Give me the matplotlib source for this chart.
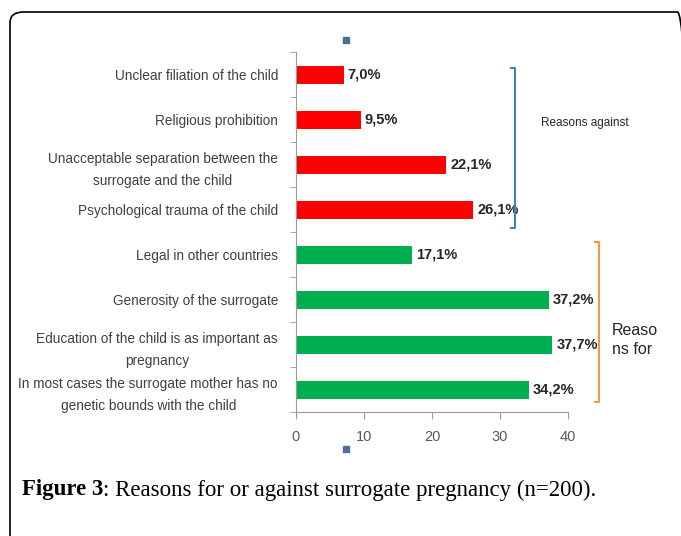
import matplotlib.pyplot as plt
from matplotlib.patches import FancyBboxPatch, Rectangle
from matplotlib.lines import Line2D

categories = [
    "Unclear filiation of the child",
    "Religious prohibition",
    "Unacceptable separation between the\nsurrogate and the child",
    "Psychological trauma of the child",
    "Legal in other countries",
    "Generosity of the surrogate",
    "Education of the child is as important as\npregnancy",
    "In most cases the surrogate mother has no\ngenetic bounds with the child",
]
values = [7.0, 9.5, 22.1, 26.1, 17.1, 37.2, 37.7, 34.2]
groups = ["against"] * 4 + ["for"] * 4
colors = {"against": "#FF0000", "for": "#00B050"}
xticks = [0, 10, 20, 30, 40]

W, H = 681, 536
fig = plt.figure(figsize=(W / 100, H / 100), dpi=100)
fam = ["Liberation Sans Narrow", "Liberation Sans", "DejaVu Sans"]

ax = fig.add_axes([296 / W, 1 - 412 / H, 272 / W, 360 / H])
y = list(range(len(categories)))
ax.barh(y, values, height=0.4, color=[colors[g] for g in groups])
ax.set_ylim(len(categories) - 0.5, -0.5)
ax.set_xlim(0, 40)
ax.set_xticks(xticks)
ax.set_xticklabels([str(t) for t in xticks], family=fam, fontsize=10.5, color="#595959")
ax.set_yticks(y)
ax.set_yticklabels(categories, family=fam, fontsize=9.8, color="#404040")
for lab in ax.get_yticklabels():
    lab.set_linespacing(1.75)
    lab.set_multialignment("center")
ax.set_yticks([i - 0.5 for i in range(len(categories) + 1)], minor=True)
ax.tick_params(axis="y", which="major", length=0, pad=13)
ax.tick_params(axis="y", which="minor", length=4, color="#999999")
ax.tick_params(axis="x", length=5, color="#999999", pad=8)
for s in ["top", "right"]:
    ax.spines[s].set_visible(False)
for s in ["left", "bottom"]:
    ax.spines[s].set_color("#999999")
for yi, v in zip(y, values):
    ax.text(v + 0.6, yi, f"{v:.1f}%".replace(".", ","), va="center", ha="left",
            family=fam, fontsize=10.5, fontweight="bold", color="#262626")

# group brackets
def bracket(x, y0, y1, col):
    xs = [x - 4, x, x, x - 4]
    ys = [y0, y0, y1, y1]
    fig.add_artist(Line2D([v / W for v in xs], [1 - v / H for v in ys], color=col, lw=1.5))

bracket(515, 68, 228, "#4A7EBB")
bracket(599, 242, 402, "#F79646")
fig.text(585 / W, 1 - 123 / H, "Reasons against", ha="center", va="center",
         family=fam, fontsize=8.5, color="#262626")
fig.text(612 / W, 1 - 340 / H, "Reaso\nns for", ha="left", va="center",
         family=fam, fontsize=11.5, color="#262626", linespacing=1.3)

# stray legend markers
for yy in (40, 449):
    fig.add_artist(Rectangle((343 / W, 1 - (yy + 3) / H), 6 / W, 6 / H, color="#4F6D9A"))

# frame
fig.add_artist(FancyBboxPatch((10 / W, -0.2), 1.0, 1 - 12 / H + 0.2,
                              boxstyle="round,pad=0,rounding_size=0.02",
                              fill=False, ec="black", lw=1.2, clip_on=False))

# caption: bold part then the rest, placed after measuring
t1 = fig.text(22 / W, 1 - 490 / H, "Figure 3", family="Liberation Serif", fontsize=16.5,
              fontweight="bold", va="center", ha="left")
r = fig.canvas.get_renderer()
x_end = t1.get_window_extent(renderer=r).x1
fig.text(x_end / W, 1 - 490 / H, ": Reasons for or against surrogate pregnancy (n=200).",
         family="Liberation Serif", fontsize=16.5, va="center", ha="left")

fig.savefig("out.png", dpi=100)
